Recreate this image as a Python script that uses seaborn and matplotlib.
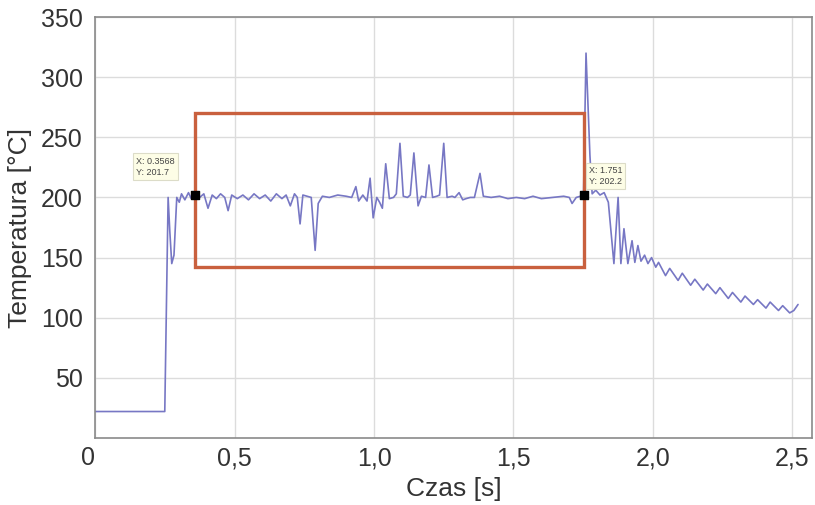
import matplotlib
matplotlib.use("Agg")
import matplotlib.pyplot as plt
import matplotlib.patches as patches
import seaborn as sns
import pandas as pd

# Temperature trace
czas = [0.000, 0.250, 0.262, 0.268, 0.275, 0.283, 0.293, 0.302, 0.310, 0.322,
        0.335, 0.345, 0.3568, 0.375, 0.390, 0.405, 0.420, 0.435, 0.450, 0.465,
        0.477, 0.490, 0.510, 0.530, 0.550, 0.570, 0.590, 0.610, 0.630, 0.650,
        0.670, 0.685, 0.700, 0.715, 0.725, 0.735, 0.745, 0.760, 0.775, 0.789,
        0.800, 0.815, 0.840, 0.870, 0.900, 0.920, 0.935, 0.945, 0.960, 0.975,
        0.986, 0.997, 1.010, 1.020, 1.030, 1.042, 1.055, 1.070, 1.080, 1.093,
        1.105, 1.120, 1.130, 1.143, 1.158, 1.170, 1.185, 1.197, 1.210, 1.225,
        1.235, 1.250, 1.262, 1.280, 1.290, 1.305, 1.318, 1.330, 1.345, 1.360,
        1.380, 1.392, 1.420, 1.450, 1.480, 1.510, 1.540, 1.570, 1.600, 1.640,
        1.680, 1.700, 1.710, 1.725, 1.740, 1.751, 1.760, 1.774, 1.782, 1.795,
        1.810, 1.825, 1.840, 1.860, 1.875, 1.885, 1.896, 1.910, 1.925, 1.935,
        1.946, 1.957, 1.970, 1.982, 1.995, 2.010, 2.020, 2.045, 2.060, 2.090,
        2.105, 2.135, 2.150, 2.180, 2.195, 2.225, 2.240, 2.270, 2.285, 2.315,
        2.330, 2.360, 2.375, 2.405, 2.420, 2.450, 2.465, 2.490, 2.505, 2.520]
temperatura = [22, 22, 200, 172, 145, 152, 200, 196, 203, 198,
               204, 199, 201.7, 200, 203, 191, 202, 199, 203, 200,
               189, 202, 199, 202, 198, 203, 199, 202, 197, 203,
               199, 202, 193, 203, 200, 178, 202, 201, 200, 156,
               195, 201, 200, 202, 201, 200, 209, 197, 202, 197,
               216, 183, 200, 196, 191, 228, 199, 200, 203, 245,
               201, 200, 202, 237, 193, 201, 200, 227, 200, 201,
               202, 245, 200, 201, 200, 204, 198, 199, 200, 200,
               220, 201, 200, 201, 199, 200, 199, 201, 199, 200,
               201, 200, 195, 200, 201, 202.2, 320, 235, 203, 206,
               202, 204, 196, 145, 200, 145, 174, 145, 164, 146,
               160, 147, 152, 145, 150, 142, 146, 135, 141, 131,
               137, 127, 132, 123, 128, 120, 125, 116, 121, 113,
               118, 111, 115, 108, 113, 106, 110, 104, 106, 111]

# Data tips and analysed window
tip_x = [0.3568, 1.751]
tip_y = [201.7, 202.2]
tip_text = ["X: 0.3568\nY: 201.7", "X: 1.751\nY: 202.2"]
okno_x = [0.3568, 1.751]
okno_y = [142, 270]

x_ticks = [0, 0.5, 1.0, 1.5, 2.0, 2.5]
x_labels = ["0", "0,5", "1,0", "1,5", "2,0", "2,5"]
y_ticks = [50, 100, 150, 200, 250, 300, 350]

df = pd.DataFrame({"Czas": czas, "Temperatura": temperatura})

sns.set_theme(style="whitegrid")
plt.rcParams["font.family"] = ["Liberation Sans", "DejaVu Sans"]

fig = plt.figure(figsize=(8.15, 5.05), dpi=100)
ax = fig.add_axes([0.1166, 0.1327, 0.8797, 0.8336])

sns.lineplot(data=df, x="Czas", y="Temperatura", color="#7777c4",
             linewidth=1.2, estimator=None, ax=ax)

# Analysed window (red rectangle)
ax.add_patch(patches.Rectangle((okno_x[0], okno_y[0]), okno_x[1] - okno_x[0],
                               okno_y[1] - okno_y[0], fill=False,
                               edgecolor="#c9603e", linewidth=2.4, zorder=3))

# Data tips
ax.scatter(tip_x, tip_y, marker="s", s=28, color="black", zorder=5)
tip_pos = [(0.148, 234), (1.770, 226)]
for (px, py), txt in zip(tip_pos, tip_text):
    ax.text(px, py, txt, fontsize=6.5, color="#444444", va="top", ha="left",
            linespacing=1.3, zorder=6,
            bbox=dict(boxstyle="square,pad=0.35", facecolor="#fdfde6",
                      edgecolor="#dcdcc8", linewidth=0.8))

ax.set_xlim(0, 2.57)
ax.set_ylim(0, 350)
ax.set_xticks(x_ticks)
ax.set_xticklabels(x_labels)
ax.set_yticks(y_ticks)
ax.tick_params(axis="both", labelsize=18, colors="#333333", direction="in",
               length=4, width=0.8, color="#777777")
ax.tick_params(axis="x", pad=6)
ax.tick_params(axis="y", pad=9)
for lab in ax.get_xticklabels()[:1]:
    lab.set_horizontalalignment("right")

ax.grid(True, color="#dcdcdc", linewidth=1.0)
for sp in ax.spines.values():
    sp.set_visible(True)
    sp.set_color("#8a8a8a")
    sp.set_linewidth(1.2)

ax.set_xlabel("Czas [s]", fontsize=19, color="#333333", labelpad=5)
ax.set_ylabel("Temperatura [°C]", fontsize=19, color="#333333", labelpad=6)

fig.savefig("out.png", dpi=100, facecolor="white")
